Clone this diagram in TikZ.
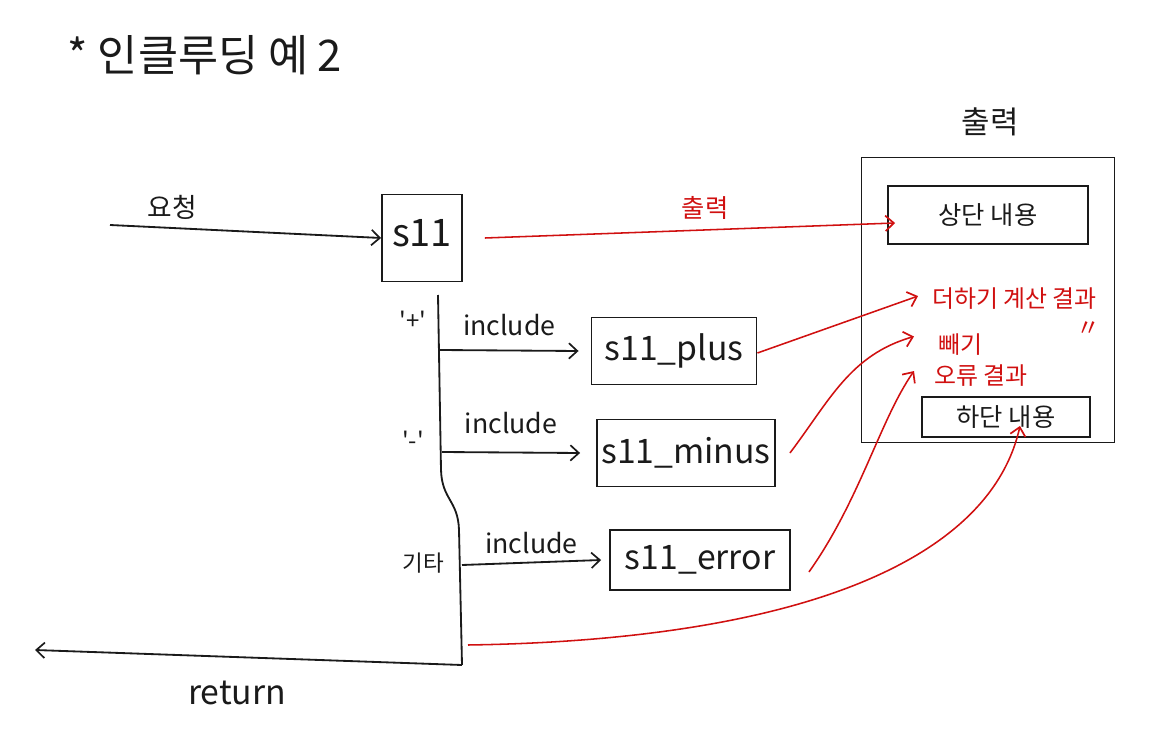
\documentclass[tikz,border=0pt]{standalone}
\usepackage{fontspec}
\setmainfont{Noto Sans CJK KR}
\newfontfamily\qfont{Noto Sans CJK KR}
\usetikzlibrary{arrows.meta}
\newcommand\fsz[1]{\fontsize{#1}{#1}\selectfont}
\definecolor{pen}{HTML}{1A1A1A}
\definecolor{redpen}{HTML}{D01010}
\tikzset{
  x=0.025cm, y=-0.025cm,
  ink/.style={draw=pen, line width=1.3pt},
  redink/.style={draw=redpen, line width=1.1pt},
  arr/.style={-{Straight Barb[length=6pt,width=11pt,line width=1.2pt]}},
  box/.style={ink, rectangle, inner sep=0pt, font=\fsz{24pt}, text=pen},
  lbl/.style={inner sep=0pt, text=pen},
  rlbl/.style={inner sep=0pt, text=redpen, font=\fsz{17pt}},
}
\begin{document}
\begin{tikzpicture}
\useasboundingbox (0,0) rectangle (1160,729);
% title
\node[lbl, font=\fsz{31pt}] (title) at (205,55) {* 인클루딩 예 2};
% request
\coordinate (req) at (110,225);
\node[box, font=\fsz{27pt}, minimum width=2cm, minimum height=2.175cm] (s11) at (422,238) {\raisebox{0.25cm}{s11}};
\node[lbl, font=\fsz{19pt}, anchor=south] (reqlbl) at (172,220) {요청};
\draw[ink, arr] (req) -- (s11.west);
% output frame
\node[lbl, font=\fsz{22pt}] (outhdr) at (990,122) {출력};
\node[box, minimum width=6.325cm, minimum height=7.125cm] (out) at (988,300) {};
\node[box, font=\fsz{18pt}, minimum width=5cm, minimum height=1.45cm] (top) at (988,215) {상단 내용};
\node[box, font=\fsz{18pt}, minimum width=4.2cm, minimum height=1cm] (bot) at (1006,417) {하단 내용};
\node[rlbl, anchor=base west] (add) at (932,307) {더하기 계산 결과};
\node[rlbl, anchor=base west] (sub) at (938,353) {빼기\rlap{\hspace{2.35cm}\raisebox{0.4cm}{〃}}};
\node[rlbl, anchor=base west] (err) at (934,384) {오류 결과};
% red output arrow from s11
\node[rlbl, font=\fsz{18pt}] (outred) at (705,208) {출력};
\draw[redink, arr] ([xshift=0.55cm]s11.east) -- ([xshift=0.2cm,yshift=-0.2cm]top.west);
% branch line
\coordinate (b0) at (438,295);
\coordinate (bp) at (440,350);
\coordinate (bm) at (442,452);
\coordinate (b1) at (441,470);
\coordinate (b2) at (459,530);
\coordinate (be) at (462,565);
\coordinate (b3) at (462,665);
\coordinate (ret) at (35,650);
\draw[ink] (b0) -- (b1) .. controls (442,500) and (458,500) .. (b2) -- (b3);
\draw[ink, arr] (b3) -- (ret);
\node[lbl, font=\fsz{24pt}] (retlbl) at (237,693) {return};
% case labels
\node[lbl, font=\fsz{17pt}] (lp) at (413,320) {\qfont '+'};
\node[lbl, font=\fsz{17pt}] (lm) at (413,440) {\qfont '-'};
\node[lbl, font=\fsz{16pt}] (le) at (423,563) {기타};
% included boxes
\node[box, minimum width=4.125cm, minimum height=1.675cm] (plus) at (674,351) {s11\_plus};
\node[box, minimum width=4.45cm, minimum height=1.675cm] (minus) at (686,453) {s11\_minus};
\node[box, minimum width=4.5cm, minimum height=1.5cm] (error) at (700,560) {s11\_error};
\draw[ink, arr] (bp) -- node[lbl, above=0.35cm, font=\fsz{19pt}] (i1) {include} ([xshift=-0.3cm]plus.west);
\draw[ink, arr] (bm) -- node[lbl, above=0.45cm, font=\fsz{19pt}] (i2) {include} ([xshift=-0.4cm]minus.west);
\draw[ink, arr] (be) -- node[lbl, above=0.2cm, font=\fsz{19pt}] (i3) {include} ([xshift=-0.2cm]error.west);
% red arrows into output
\draw[redink, arr] ([yshift=-0.05cm]plus.east) -- ([xshift=-0.35cm,yshift=0.05cm]add.west);
\draw[redink, arr] ([xshift=0.35cm]minus.east) .. controls (830,400) and (850,355) .. ([xshift=-0.6cm,yshift=0.05cm]sub.west);
\draw[redink, arr] ([xshift=0.45cm,yshift=-0.3cm]error.east) .. controls (860,500) and (880,420) .. ([xshift=-0.5cm,yshift=0.1cm]err.west);
\draw[redink, arr] ([xshift=0.15cm,yshift=0.5cm]b3) .. controls (800,640) and (990,560) .. ([xshift=0.35cm,yshift=0.3cm]bot.south);
\end{tikzpicture}
\end{document}
